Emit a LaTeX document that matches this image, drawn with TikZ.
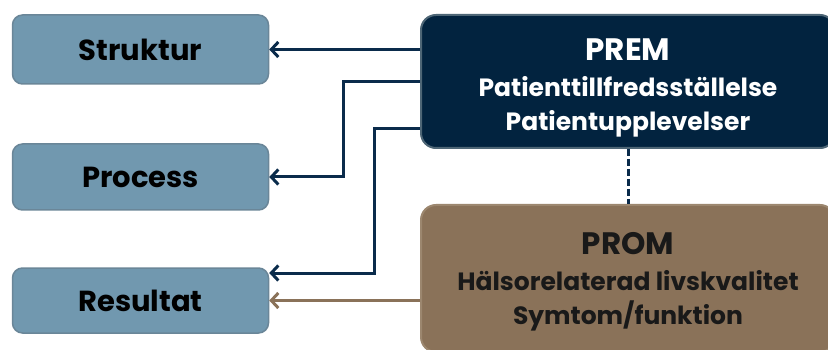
\documentclass[tikz,border=0pt]{standalone}
\usepackage{fontspec}
\setmainfont{Poppins}
\usepackage{tikz}
\usetikzlibrary{positioning, arrows.meta, calc}
\definecolor{cside}{HTML}{7198AF}
\definecolor{csideline}{HTML}{6A8698}
\definecolor{cprem}{HTML}{02233F}
\definecolor{cpremline}{HTML}{4E6676}
\definecolor{cprom}{HTML}{8A7259}
\definecolor{cpromline}{HTML}{9C876F}
\definecolor{cnavy}{HTML}{0A2B4B}
\tikzset{
  lbox/.style={draw=csideline, line width=1.5pt, fill=cside, rounded corners=10pt,
               minimum width=256pt, minimum height=66pt, font=\bfseries\fontsize{29}{32}\selectfont},
  bigbox/.style={line width=2pt, rounded corners=15pt, align=center,
                 minimum width=414pt, font=\bfseries\fontsize{25}{34}\selectfont},
  fl/.style={-{Straight Barb[length=7pt, width=15pt]}, line width=3pt, cnavy},
  fb/.style={fl, cprom},
}
\begin{document}
\begin{tikzpicture}[x=1pt, y=-1pt]
  \clip (0,0) rectangle (828,350);
  \fill[white] (0,0) rectangle (828,350);
  % ---------- left column ----------
  \node[lbox, minimum height=69pt] (struktur) at (140.5,49.5) {Struktur};
  \node[lbox] (process) at (140.5,177) {Process};
  \node[lbox, minimum height=65pt] (resultat) at (140.5,300.5) {Resultat};
  % ---------- measures ----------
  \node[bigbox, draw=cpremline, fill=cprem, text=white, minimum height=133pt] (prem) at (628,81.5)
    {\rule{0pt}{34pt}{\fontsize{31}{34}\selectfont PREM}\\[2pt]Patienttillfredsställelse\\Patientupplevelser};
  \node[bigbox, draw=cpromline, fill=cprom, text=black!90, minimum height=147pt] (prom) at (628,278.5)
    {\rule{0pt}{28pt}{\fontsize{31}{34}\selectfont PROM}\\[2pt]Hälsorelaterad livskvalitet\\Symtom/funktion};
  \coordinate (pr3) at ($(prem.west)+(0,47.5)$);
  \coordinate (rs3) at ($(resultat.east)+(0,-27.5)$);
  % ---------- connectors ----------
  \draw[fl] (prem.west |- struktur.east) -- (struktur.east);
  \draw[fl] (prem.west) -- ++(-77,0) |- (process.east);
  \draw[fl] (pr3) -- ++(-46,0) |- (rs3);
  \draw[fb] (prom.west |- resultat.east) -- (resultat.east);
  \draw[cnavy, line width=3pt, dash pattern=on 7pt off 3pt] (prem.south) -- (prom.north);
\end{tikzpicture}
\end{document}
